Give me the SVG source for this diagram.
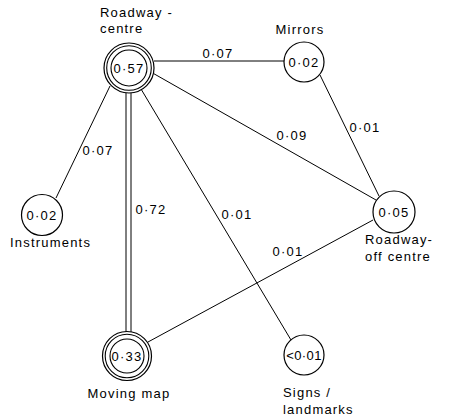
<svg xmlns="http://www.w3.org/2000/svg" width="450" height="420" viewBox="0 0 450 420">
<style>
  text { font-family: "Liberation Sans", Arial, sans-serif; font-size: 13px; fill: #000; letter-spacing: 1.2px; }
  .c { text-anchor: middle; }
  .node { fill: #fff; stroke: #000; stroke-width: 1.2; }
  .ring { fill: none; stroke: #000; stroke-width: 1.1; }
  .edge { stroke: #000; stroke-width: 1; fill: none; }
</style>
<rect width="450" height="420" fill="#fff"/>
<g id="connectors">
  <line class="edge" x1="154" y1="61" x2="285" y2="61"/>
  <line class="edge" x1="110" y1="86" x2="56" y2="198"/>
  <line class="edge" x1="153.5" y1="73.5" x2="376" y2="200"/>
  <line class="edge" x1="141" y1="89" x2="291" y2="340"/>
  <line class="edge" x1="320" y1="75" x2="379" y2="196"/>
  <line class="edge" x1="148" y1="342" x2="373" y2="220"/>
  <line class="edge" x1="126" y1="93" x2="126" y2="333"/>
  <line class="edge" x1="131" y1="93" x2="131" y2="333"/>
  <text class="c" x="218" y="57.5">0·07</text>
  <text class="c" x="98" y="154.5">0·07</text>
  <text class="c" x="292" y="139.5">0·09</text>
  <text class="c" x="365" y="131.5">0·01</text>
  <text class="c" x="151" y="213.5">0·72</text>
  <text class="c" x="237" y="218.5">0·01</text>
  <text class="c" x="288" y="255.5">0·01</text>
</g>
<g id="roadway-centre">
  <circle class="node" cx="129" cy="68" r="25"/>
  <circle class="ring" cx="129" cy="68" r="22.3"/>
  <circle class="ring" cx="129" cy="68" r="18"/>
  <text class="c" x="129" y="72.7">0·57</text>
  <text x="100" y="17">Roadway -</text>
  <text x="100" y="33">centre</text>
</g>
<g id="mirrors">
  <circle class="node" cx="304" cy="62" r="20"/>
  <text class="c" x="304" y="66.7">0·02</text>
  <text class="c" x="300" y="34">Mirrors</text>
</g>
<g id="instruments">
  <circle class="node" cx="42" cy="215" r="20.5"/>
  <text class="c" x="42" y="219.7">0·02</text>
  <text x="10" y="247">Instruments</text>
</g>
<g id="roadway-off-centre">
  <circle class="node" cx="394" cy="212" r="21"/>
  <text class="c" x="394" y="216.7">0·05</text>
  <text x="365" y="244">Roadway-</text>
  <text x="365" y="261">off centre</text>
</g>
<g id="moving-map">
  <circle class="node" cx="127" cy="356" r="24.5"/>
  <circle class="ring" cx="127" cy="356" r="21.8"/>
  <circle class="ring" cx="127" cy="356" r="17"/>
  <text class="c" x="127" y="360.7">0·33</text>
  <text class="c" x="129" y="398">Moving map</text>
</g>
<g id="signs-landmarks">
  <circle class="node" cx="304" cy="355" r="20"/>
  <text class="c" x="304" y="359.7" style="letter-spacing:0.4px">&lt;0·01</text>
  <text x="283" y="397">Signs /</text>
  <text x="283" y="414">landmarks</text>
</g>
</svg>
